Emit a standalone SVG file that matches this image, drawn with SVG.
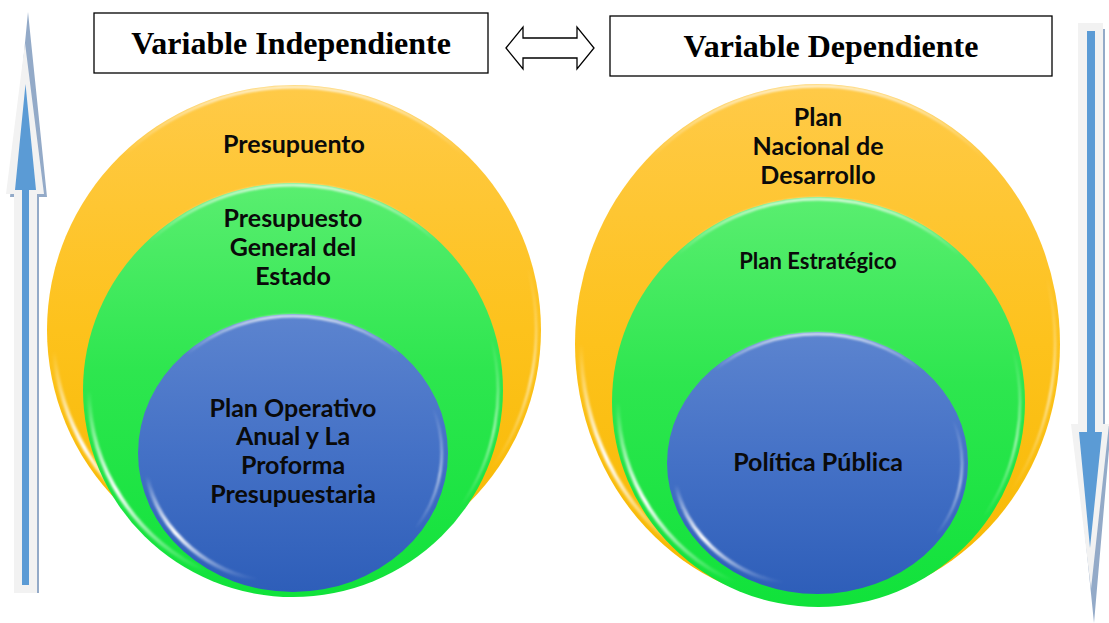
<svg xmlns="http://www.w3.org/2000/svg" width="1109" height="623" viewBox="0 0 1109 623">
  <defs>
    <linearGradient id="gOrange" x1="0" y1="0" x2="0" y2="1">
      <stop offset="0" stop-color="#ffca48"/>
      <stop offset="0.5" stop-color="#fdc21c"/>
      <stop offset="1" stop-color="#f6b800"/>
    </linearGradient>
    <linearGradient id="gGreen" x1="0" y1="0" x2="0" y2="1">
      <stop offset="0" stop-color="#5aee70"/>
      <stop offset="0.45" stop-color="#2ee64f"/>
      <stop offset="1" stop-color="#10e23a"/>
    </linearGradient>
    <linearGradient id="gBlue" x1="0" y1="0" x2="0" y2="1">
      <stop offset="0" stop-color="#5c84cf"/>
      <stop offset="0.5" stop-color="#4471c6"/>
      <stop offset="1" stop-color="#2e5eb9"/>
    </linearGradient>
    <linearGradient id="gTopRim" x1="0" y1="0" x2="0" y2="1">
      <stop offset="0" stop-color="#ffffff" stop-opacity="0.75"/>
      <stop offset="0.14" stop-color="#ffffff" stop-opacity="0"/>
    </linearGradient>
    <linearGradient id="gFade" x1="0" y1="0" x2="0" y2="1">
      <stop offset="0" stop-color="#ffffff" stop-opacity="0"/>
      <stop offset="0.55" stop-color="#ffffff" stop-opacity="1"/>
      <stop offset="1" stop-color="#ffffff" stop-opacity="0"/>
    </linearGradient>
    <filter id="soft" x="-10%" y="-10%" width="120%" height="120%">
      <feGaussianBlur stdDeviation="1.2"/>
    </filter>
  </defs>
  <style>
    .hdr { fill: #ffffff; stroke: #000000; stroke-width: 1.3; }
    .hdrtxt { font-family: "Liberation Serif", "Times New Roman", serif; font-weight: bold; font-size: 32px; fill: #000000; text-anchor: middle; }
    .lbl { font-family: Lato, "Noto Sans", sans-serif; font-weight: bold; font-size: 25px; fill: #0a0a0a; text-anchor: middle; }
    .lbl-s { font-size: 22px; }
    .rim { fill: none; stroke: url(#gTopRim); stroke-width: 3; filter: url(#soft); }
    .gloss { fill: none; stroke: url(#gFade); stroke-width: 4; stroke-linecap: round; filter: url(#soft); }
    .gloss2 { fill: none; stroke: url(#gFade); stroke-width: 2.5; stroke-linecap: round; opacity: 0.6; filter: url(#soft); }
    .outline { fill: #f2f2f2; }
    .shadow { fill: #93aac8; }
    .arrowfill { fill: #5b9bd5; }
    .dbl { fill: #ffffff; stroke: #000000; stroke-width: 1.3; stroke-linejoin: miter; }
  </style>

  <rect width="1109" height="623" fill="#ffffff"/>

  <!-- Header nodes -->
  <g id="var-independiente">
    <rect class="hdr" x="94" y="13" width="394" height="60"/>
    <text class="hdrtxt" x="291" y="54">Variable Independiente</text>
  </g>
  <g id="var-dependiente">
    <rect class="hdr" x="610" y="16" width="442" height="60"/>
    <text class="hdrtxt" x="831" y="57">Variable Dependiente</text>
  </g>

  <!-- Left nested spheres -->
  <g id="presupuento">
    <ellipse cx="294" cy="330" rx="247" ry="245" fill="url(#gOrange)"/>
    <ellipse class="rim" cx="294" cy="330" rx="245" ry="243"/>
    <path class="gloss" d="M54,351 A241,239 0 0 0 156,526"/>
    <path class="gloss2" d="M528,268 A242,240 0 0 1 492,468"/>
    <text class="lbl" x="294" y="153">Presupuento</text>
  </g>
  <g id="presupuesto-general">
    <ellipse cx="293" cy="390" rx="210" ry="207" fill="url(#gGreen)"/>
    <ellipse class="rim" cx="293" cy="390" rx="208" ry="205"/>
    <path class="gloss" d="M89,390 A204,201 0 0 0 207,572"/>
    <path class="gloss2" d="M491,338 A205,202 0 0 1 461,506"/>
    <text class="lbl" x="293" y="227">Presupuesto</text>
    <text class="lbl" x="293" y="256">General del</text>
    <text class="lbl" x="293" y="285">Estado</text>
  </g>
  <g id="plan-operativo">
    <ellipse cx="293" cy="453" rx="155" ry="139" fill="url(#gBlue)"/>
    <ellipse class="rim" cx="293" cy="453" rx="153" ry="137"/>
    <path class="gloss" d="M147,476 A148,132 0 0 0 255,580"/>
    <path class="gloss2" d="M433,408 A149,133 0 0 1 415,529"/>
    <text class="lbl" x="293" y="417">Plan Operativo</text>
    <text class="lbl" x="293" y="445">Anual y La</text>
    <text class="lbl" x="293" y="474">Proforma</text>
    <text class="lbl" x="293" y="503">Presupuestaria</text>
  </g>

  <!-- Right nested spheres -->
  <g id="plan-nacional">
    <ellipse cx="817.5" cy="344" rx="242.5" ry="260" fill="url(#gOrange)"/>
    <ellipse class="rim" cx="817.5" cy="344" rx="240.5" ry="258"/>
    <path class="gloss" d="M581,344 A236.5,254 0 0 0 682,552"/>
    <path class="gloss2" d="M1047,278 A237.5,255 0 0 1 1012,490"/>
    <text class="lbl" x="818" y="126">Plan</text>
    <text class="lbl" x="818" y="155">Nacional de</text>
    <text class="lbl" x="818" y="184">Desarrollo</text>
  </g>
  <g id="plan-estrategico">
    <ellipse cx="818.5" cy="402" rx="206.5" ry="205" fill="url(#gGreen)"/>
    <ellipse class="rim" cx="818.5" cy="402" rx="204.5" ry="203"/>
    <path class="gloss" d="M618,402 A200.5,199 0 0 0 734,582"/>
    <path class="gloss2" d="M1013,350 A201.5,200 0 0 1 983.5,517"/>
    <text class="lbl lbl-s" x="818" y="269">Plan Estratégico</text>
  </g>
  <g id="politica-publica">
    <ellipse cx="817.5" cy="463" rx="150.5" ry="131" fill="url(#gBlue)"/>
    <ellipse class="rim" cx="817.5" cy="463" rx="148.5" ry="129"/>
    <path class="gloss" d="M676,484.5 A143.5,124 0 0 0 780,583"/>
    <path class="gloss2" d="M953,420 A144.5,125 0 0 1 936,535"/>
    <text class="lbl" x="818" y="471">Política Pública</text>
  </g>

  <!-- Connectors -->
  <g id="connectors">
    <polygon class="dbl" points="506,48 523,27 523,38 577,38 577,27 594,48 577,69 577,58 523,58 523,69"/>
    <!-- left upward arrow -->
    <polygon class="shadow" points="28,12 47,197 39,197 39,593 16,593 16,197 10,197"/>
    <polygon class="outline" points="25,43 44,194 37,194 37,593 14,593 14,194 6,194"/>
    <polygon class="arrowfill" points="25.5,84 36,190 29,190 29,585 22,585 22,190 15,190"/>
    <!-- right downward arrow -->
    <polygon class="shadow" points="1080,29 1105,29 1105,426 1111,426 1094,623 1074,426 1080,426"/>
    <polygon class="outline" points="1078,23 1103,23 1103,424 1109,424 1091,589 1071,424 1078,424"/>
    <polygon class="arrowfill" points="1087,31 1095,31 1095,432 1102,432 1090,548 1079,432 1087,432"/>
  </g>
</svg>
